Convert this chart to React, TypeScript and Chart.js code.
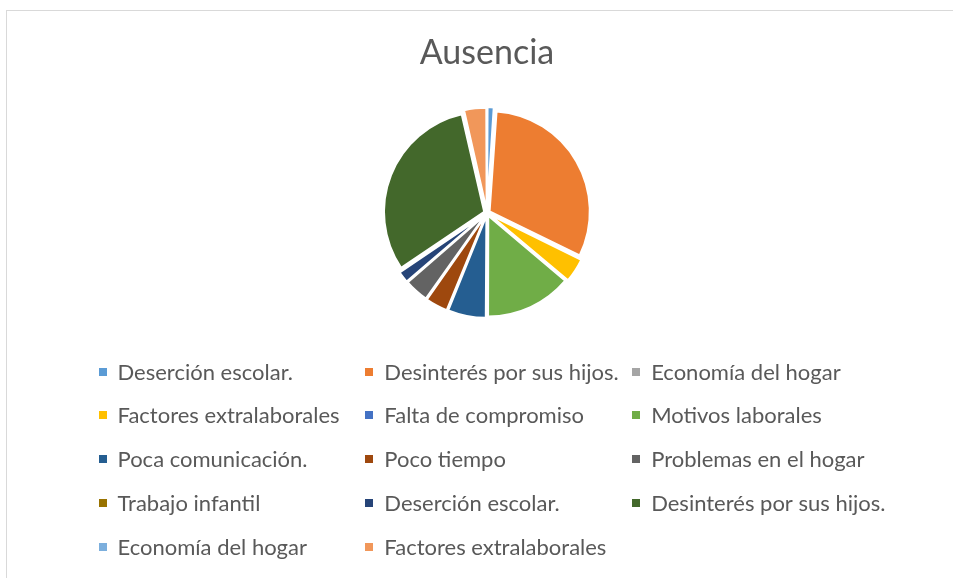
import React, { useEffect, useRef } from "react";
import { Chart, registerables } from "chart.js";

Chart.register(...registerables);

const TITLE = "Ausencia";
const labels = [
  "Deserción escolar.",
  "Desinterés por sus hijos.",
  "Economía del hogar",
  "Factores extralaborales",
  "Falta de compromiso",
  "Motivos laborales",
  "Poca comunicación.",
  "Poco tiempo",
  "Problemas en el hogar",
  "Trabajo infantil",
  "Deserción escolar.",
  "Desinterés por sus hijos.",
  "Economía del hogar",
  "Factores extralaborales",
];
const values = [1.1, 31.1, 0, 3.9, 0, 13.9, 6.1, 3.6, 3.9, 0, 1.9, 30.8, 0, 3.6];
const colors = [
  "#5B9BD5", "#ED7D31", "#A5A5A5", "#FFC000", "#4472C4", "#70AD47", "#255E91",
  "#9E480E", "#636363", "#997300", "#264478", "#43682B", "#7CAFDD", "#F1975A",
];

const FONT = "Lato, 'Open Sans', sans-serif";
const TEXT_COLOR = "#595959";

const gridLegend = {
  id: "gridLegend",
  afterDraw(chart: any) {
    const ctx = chart.ctx as CanvasRenderingContext2D;
    ctx.save();
    ctx.font = `22px ${FONT}`;
    const widths = labels.map((l) => ctx.measureText(l).width);
    const maxW = Math.max(...widths);
    const box = 8, gap = 11, colPad = 13.5, cols = 3;
    const colW = box + gap + maxW + colPad;
    const total = cols * colW - colPad;
    const cx = (chart.chartArea.left + chart.chartArea.right) / 2;
    const x0 = cx - total / 2 + 5;
    const y0 = chart.chartArea.bottom + 29;
    labels.forEach((l, i) => {
      const r = Math.floor(i / cols);
      const c = i % cols;
      const x = x0 + c * colW;
      const y = y0 + r * 43.8;
      ctx.fillStyle = colors[i];
      ctx.fillRect(Math.round(x), Math.round(y - 4), 8, 8);
      ctx.fillStyle = TEXT_COLOR;
      ctx.textBaseline = "middle";
      ctx.textAlign = "left";
      ctx.fillText(l, x + box + gap, y + 1);
    });
    ctx.restore();
  },
};

export default function App() {
  const ref = useRef<HTMLCanvasElement | null>(null);
  useEffect(() => {
    if (!ref.current) return;
    const chart = new Chart(ref.current, {
      type: "pie",
      data: {
        labels,
        datasets: [
          {
            data: values,
            backgroundColor: colors,
            borderColor: "#ffffff",
            borderWidth: 2,
            offset: 12,
            radius: 100,
          } as any,
        ],
      },
      options: {
        responsive: false,
        animation: false,
        layout: { padding: { top: 0, bottom: 248.4, left: 0, right: 0 } },
        plugins: {
          legend: { display: false },
          tooltip: { enabled: false },
          title: {
            display: true,
            text: TITLE,
            color: TEXT_COLOR,
            font: { family: FONT, size: 34, weight: "normal" as any, lineHeight: 1.2 },
            padding: { top: 21.6, bottom: 10 },
          },
        },
      },
      plugins: [gridLegend],
    });
    return () => chart.destroy();
  }, []);
  return (
    <div style={{ position: "fixed", left: 0, top: 0, width: 953, height: 578, overflow: "hidden", background: "#fff" }}>
      <div
        style={{
          position: "absolute",
          left: 6,
          top: 10,
          width: 960,
          height: 580,
          borderTop: "1px solid #d9d9d9",
          borderLeft: "1px solid #d9d9d9",
        }}
      >
        <canvas ref={ref} width={960} height={580} style={{ display: "block", width: 960, height: 580 }} />
      </div>
    </div>
  );
}
